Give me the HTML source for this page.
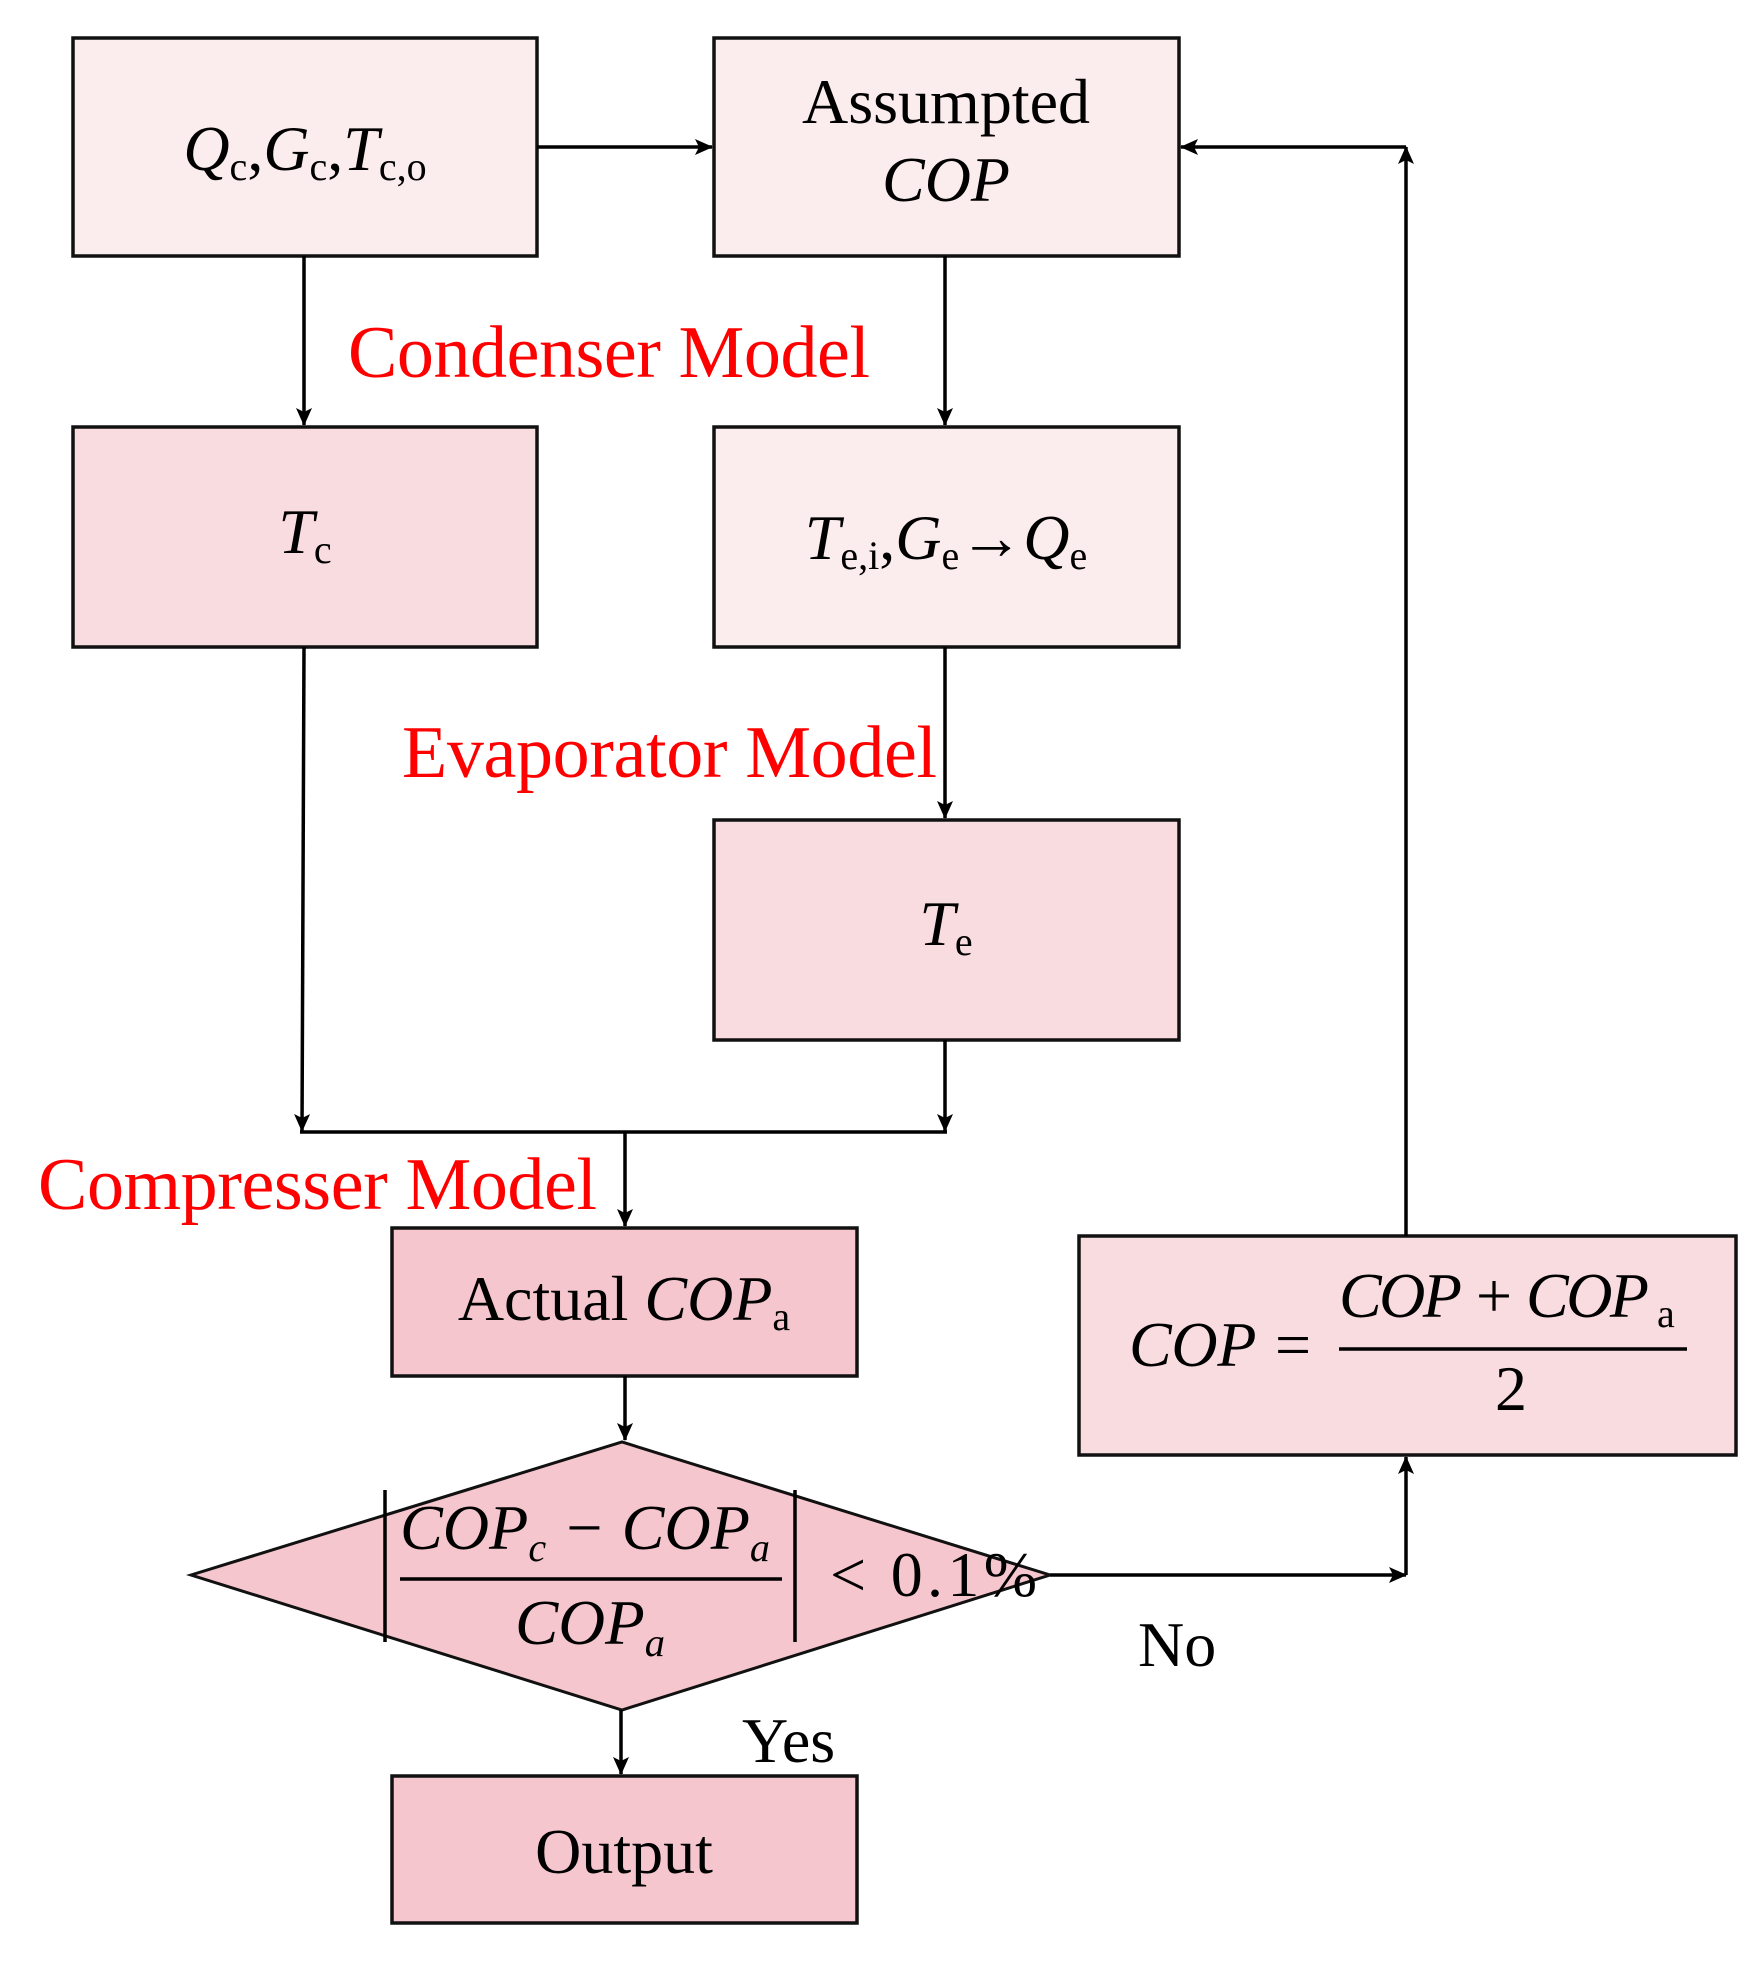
<!DOCTYPE html>
<html><head><meta charset="utf-8"><style>
html,body{margin:0;padding:0;background:#fff;}
svg{display:block;}
text{font-family:"Liberation Serif",serif;fill:#000;}
.r{fill:#ff0000;font-size:74px;}
.m{font-size:64px;}
.i{font-style:italic;}
.s{font-size:40px;font-style:normal;}
</style></head><body>
<svg width="1756" height="1971" viewBox="0 0 1756 1971" xmlns="http://www.w3.org/2000/svg">
<defs>
<marker id="ah" markerWidth="18" markerHeight="16" refX="17" refY="8" orient="auto" markerUnits="userSpaceOnUse" viewBox="0 0 18 16">
<path d="M0,0 L18,8 L0,16 L4,8 z" fill="#000"/>
</marker>
</defs>
<g stroke="#111" stroke-width="3.5">
<rect x="73" y="38" width="464" height="218" fill="#fbeced"/>
<rect x="714" y="38" width="465" height="218" fill="#fbeced"/>
<rect x="73" y="427" width="464" height="220" fill="#f9dce0"/>
<rect x="714" y="427" width="465" height="220" fill="#fbeced"/>
<rect x="714" y="820" width="465" height="220" fill="#f9dce0"/>
<rect x="392" y="1228" width="465" height="148" fill="#f5c6cd"/>
<rect x="1079" y="1236" width="657" height="219" fill="#f9dce0"/>
<rect x="392" y="1776" width="465" height="147" fill="#f5c6cd"/>
<polygon points="191,1575 622,1442 1050,1575 622,1710" fill="#f5c6cd" stroke-width="3"/>
</g>
<g stroke="#000" stroke-width="3.5" fill="none">
<line x1="537" y1="147" x2="712" y2="147" marker-end="url(#ah)"/>
<line x1="304" y1="256" x2="304" y2="425" marker-end="url(#ah)"/>
<line x1="945" y1="256" x2="945" y2="425" marker-end="url(#ah)"/>
<line x1="945" y1="647" x2="945" y2="818" marker-end="url(#ah)"/>
<line x1="304" y1="647" x2="302" y2="1131" marker-end="url(#ah)"/>
<line x1="945" y1="1040" x2="945" y2="1131" marker-end="url(#ah)"/>
<line x1="300" y1="1132" x2="947" y2="1132"/>
<line x1="625" y1="1132" x2="625" y2="1226" marker-end="url(#ah)"/>
<line x1="625" y1="1376" x2="625" y2="1440" marker-end="url(#ah)"/>
<line x1="621" y1="1710" x2="621" y2="1774" marker-end="url(#ah)"/>
<line x1="1050" y1="1575" x2="1406" y2="1575" marker-end="url(#ah)"/>
<line x1="1406" y1="1575" x2="1406" y2="1457" marker-end="url(#ah)"/>
<line x1="1406" y1="1236" x2="1406" y2="147" marker-end="url(#ah)"/>
<line x1="1406" y1="147" x2="1181" y2="147" marker-end="url(#ah)"/>
</g>
<text class="r" x="348" y="377" textLength="522">Condenser Model</text>
<text class="r" x="402" y="777" textLength="535">Evaporator Model</text>
<text class="r" x="38" y="1209" textLength="559">Compresser Model</text>

<text class="m" x="305" y="170" text-anchor="middle"><tspan class="i">Q</tspan><tspan class="s" dy="10">c</tspan><tspan dy="-10">,</tspan><tspan class="i">G</tspan><tspan class="s" dy="10">c</tspan><tspan dy="-10">,</tspan><tspan class="i">T</tspan><tspan class="s" dy="10">c,o</tspan></text>
<text class="m" x="946" y="123" text-anchor="middle">Assumpted</text>
<text class="m i" x="946" y="201" text-anchor="middle">COP</text>
<text class="m" x="305" y="553" text-anchor="middle"><tspan class="i">T</tspan><tspan class="s" dy="10">c</tspan></text>
<text class="m" x="946" y="559" text-anchor="middle"><tspan class="i">T</tspan><tspan class="s" dy="10">e,i</tspan><tspan dy="-10">,</tspan><tspan class="i">G</tspan><tspan class="s" dy="10">e</tspan><tspan dy="-10">→</tspan><tspan class="i">Q</tspan><tspan class="s" dy="10">e</tspan></text>
<text class="m" x="946" y="945" text-anchor="middle"><tspan class="i">T</tspan><tspan class="s" dy="10">e</tspan></text>
<text class="m" x="624" y="1320" text-anchor="middle">Actual <tspan class="i">COP</tspan><tspan class="s" dy="10">a</tspan></text>
<text class="m" x="624" y="1873" text-anchor="middle">Output</text>

<text class="m i" x="1129" y="1366" textLength="185">COP =</text>
<text class="m i" x="1339" y="1317" textLength="310">COP + COP</text>
<text class="s" x="1657" y="1327">a</text>
<line x1="1339" y1="1349" x2="1687" y2="1349" stroke="#000" stroke-width="3.5"/>
<text class="m" x="1511" y="1410" text-anchor="middle">2</text>

<line x1="385" y1="1490" x2="385" y2="1642" stroke="#000" stroke-width="3.5"/>
<line x1="795" y1="1490" x2="795" y2="1642" stroke="#000" stroke-width="3.5"/>
<text class="m i" x="400" y="1549" textLength="370" lengthAdjust="spacingAndGlyphs">COP<tspan class="s" style="font-style:italic" dy="12">c</tspan><tspan dy="-12"> − COP</tspan><tspan class="s" style="font-style:italic" dy="12">a</tspan></text>
<line x1="400" y1="1579" x2="782" y2="1579" stroke="#000" stroke-width="3.5"/>
<text class="m i" x="515" y="1644" textLength="150" lengthAdjust="spacingAndGlyphs">COP<tspan class="s" style="font-style:italic" dy="12">a</tspan></text>
<text class="m" x="830" y="1596" textLength="207">&lt; 0.1%</text>
<text class="m" x="1138" y="1666">No</text>
<text class="m" x="742" y="1762">Yes</text>
</svg>
</body></html>
